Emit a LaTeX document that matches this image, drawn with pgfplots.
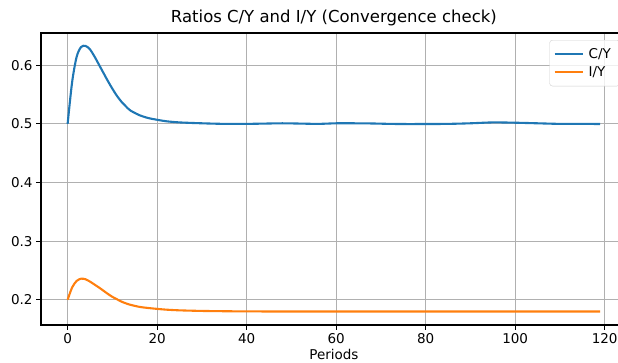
\documentclass[border=0pt]{standalone}
\usepackage{pgfplots}
\pgfplotsset{compat=1.18}
\usepackage{fontspec}
\setmainfont{DejaVu Sans}
\definecolor{cA}{HTML}{1F77B4}
\definecolor{cB}{HTML}{FF7F0E}
\definecolor{gridc}{HTML}{B0B0B0}
\begin{document}
\begin{tikzpicture}[x=1pt,y=1pt]
\path[use as bounding box] (0,0) rectangle (618,362);
\begin{axis}[
  at={(41pt,37pt)}, anchor=south west,
  scale only axis, width=585.8pt, height=292pt,
  xmin=-5.95, xmax=124.95, ymin=0.157, ymax=0.655,
  xtick={0,20,40,60,80,100,120},
  ytick={0.2,0.3,0.4,0.5,0.6},
  yticklabel style={/pgf/number format/fixed,/pgf/number format/precision=1},
  /pgf/number format/assume math mode=true,
  ticklabel style={font=\fontsize{13.5}{16}\selectfont},
  tick align=outside, major tick length=4.9pt,
  tick style={black, line width=1.1pt},
  axis line style={line width=1.1pt},
  xtick pos=bottom, ytick pos=left,
  grid=major, grid style={gridc, line width=0.9pt},
  title={Ratios C/Y and I/Y (Convergence check)},
  title style={font=\fontsize{16.5}{20}\selectfont, yshift=-2pt},
  xlabel={Periods}, xlabel style={font=\fontsize{13.5}{16}\selectfont, yshift=1pt},
  legend style={font=\fontsize{13.5}{16}\selectfont, draw=gridc!60, rounded corners=3pt, fill=white, fill opacity=0.8, text opacity=1, at={(rel axis cs:0.9885,0.976)}, anchor=north east, row sep=3pt, inner xsep=4pt, inner ysep=6pt, nodes={inner xsep=5pt, inner ysep=2pt}},
  legend cell align=left,
  legend image code/.code={\draw[#1, line width=2.1pt] (0pt,0pt) -- (28pt,0pt);},
]
\addplot[cA, line width=2.1pt, smooth] coordinates {
(0,0.500)(1,0.571)(2,0.614)(3,0.631)(4,0.633)(5,0.627)(6,0.615)(7,0.601)(8,0.587)(9,0.573)(10,0.560)(11,0.548)(12,0.538)(13,0.530)(14,0.523)(16,0.515)(18,0.510)(20,0.507)(22,0.5045)(25,0.5025)(30,0.501)(35,0.5)(40,0.5)(44,0.5005)(48,0.501)(52,0.5005)(56,0.5)(60,0.501)(64,0.501)(68,0.5007)(72,0.5)(76,0.4997)(80,0.4998)(85,0.5)(90,0.501)(95,0.5025)(100,0.502)(105,0.501)(110,0.5)(115,0.5)(119,0.4998)
};
\addlegendentry{C/Y}
\addplot[cB, line width=2.1pt, smooth] coordinates {
(0,0.200)(1,0.221)(2,0.232)(3,0.236)(4,0.235)(5,0.231)(6,0.226)(7,0.221)(8,0.2155)(9,0.210)(10,0.205)(11,0.201)(12,0.197)(13,0.194)(14,0.1915)(16,0.188)(18,0.186)(20,0.1845)(22,0.1832)(25,0.182)(30,0.181)(35,0.1805)(40,0.1802)(50,0.18)(60,0.18)(70,0.18)(80,0.18)(90,0.18)(100,0.1801)(110,0.18)(119,0.18)
};
\addlegendentry{I/Y}
\end{axis}
\end{tikzpicture}
\end{document}
